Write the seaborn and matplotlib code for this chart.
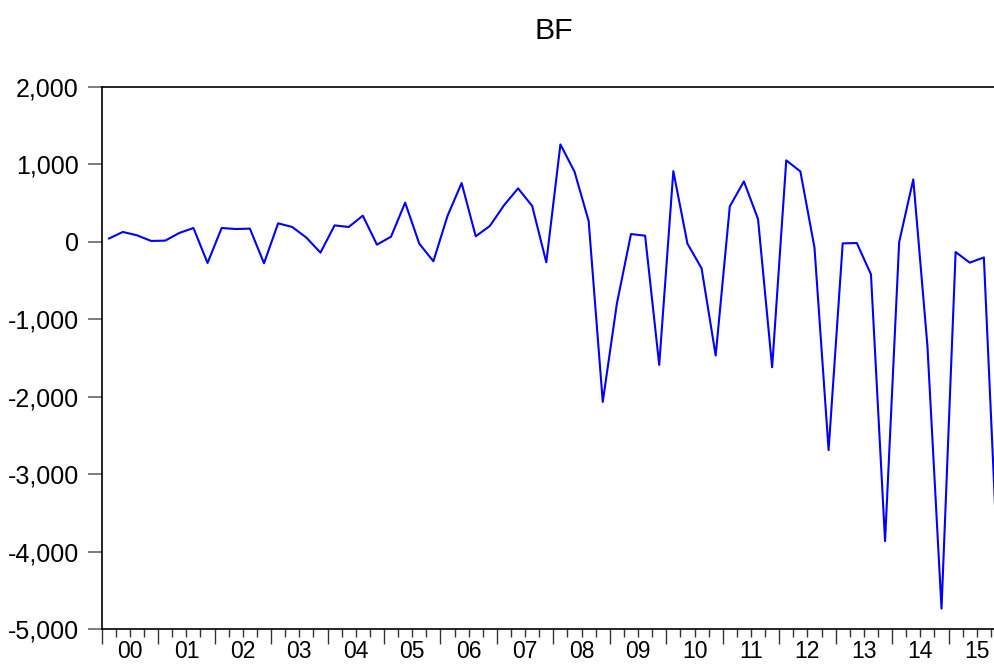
import numpy as np
import pandas as pd
import seaborn as sns
import matplotlib.pyplot as plt
from matplotlib.ticker import FuncFormatter, MultipleLocator

# Quarterly BF series, 2000Q1 - 2015Q4
bf_values = [
    39, 125, 82, 9,
    13, 112, 176, -275,
    176, 163, 168, -279,
    236, 189, 52, -142,
    210, 189, 335, -39,
    64, 503, -26, -253,
    331, 756, 69, 202,
    468, 687, 460, -267,
    1254, 902, 266, -2067,
    -799, 98, 77, -1590,
    910, -26, -344, -1469,
    455, 777, 291, -1620,
    1048, 906, -77, -2689,
    -22, -18, -421, -3862,
    -5, 803, -1340, -4734,
    -134, -271, -204, -4250,
]
year_labels = ['00', '01', '02', '03', '04', '05', '06', '07',
               '08', '09', '10', '11', '12', '13', '14', '15']

n = len(bf_values)
df = pd.DataFrame({'t': np.arange(n) + 0.5, 'BF': bf_values})

sns.set_theme(style="white")
plt.rcParams['font.family'] = ['Liberation Sans', 'DejaVu Sans']

fig = plt.figure(figsize=(9.94, 6.66), dpi=100)
ax = fig.add_axes([0.1023, 0.0551, 0.9088, 0.8149])

sns.lineplot(data=df, x='t', y='BF', ax=ax, color='#0000ff', linewidth=1.5)

ax.set_xlim(0, n)
ax.set_ylim(-5000, 2000)
ax.yaxis.set_major_locator(MultipleLocator(1000))
ax.yaxis.set_major_formatter(FuncFormatter(lambda v, p: f"{int(v):,}"))

# year boundaries as major ticks, quarters as minor ticks
ax.set_xticks(np.arange(0, n + 1, 4))
ax.set_xticklabels([])
ax.set_xticks(np.arange(0, n + 1, 1), minor=True)
ax.tick_params(axis='x', which='major', direction='out', length=11, width=1,
               color='#333333', bottom=True)
ax.tick_params(axis='x', which='minor', direction='out', length=6, width=1,
               color='#333333', bottom=True)
ax.tick_params(axis='y', which='major', direction='out', length=10, width=1.2,
               color='#666666', left=True, pad=6.5, labelsize=18,
               labelcolor='black')

# year labels centred in each year
sec = ax.secondary_xaxis('bottom')
sec.set_xticks(np.arange(2, n, 4))
sec.set_xticklabels(year_labels)
sec.tick_params(length=0, pad=8, labelsize=16.5, labelcolor='black')
sec.spines['bottom'].set_visible(False)

for side in ['left', 'top', 'bottom', 'right']:
    ax.spines[side].set_color('black')
    ax.spines[side].set_linewidth(1.2)

ax.set_xlabel('')
ax.set_ylabel('')
ax.set_title('BF', fontsize=21.8, pad=34, color='black')

fig.savefig('out.png', dpi=100)
